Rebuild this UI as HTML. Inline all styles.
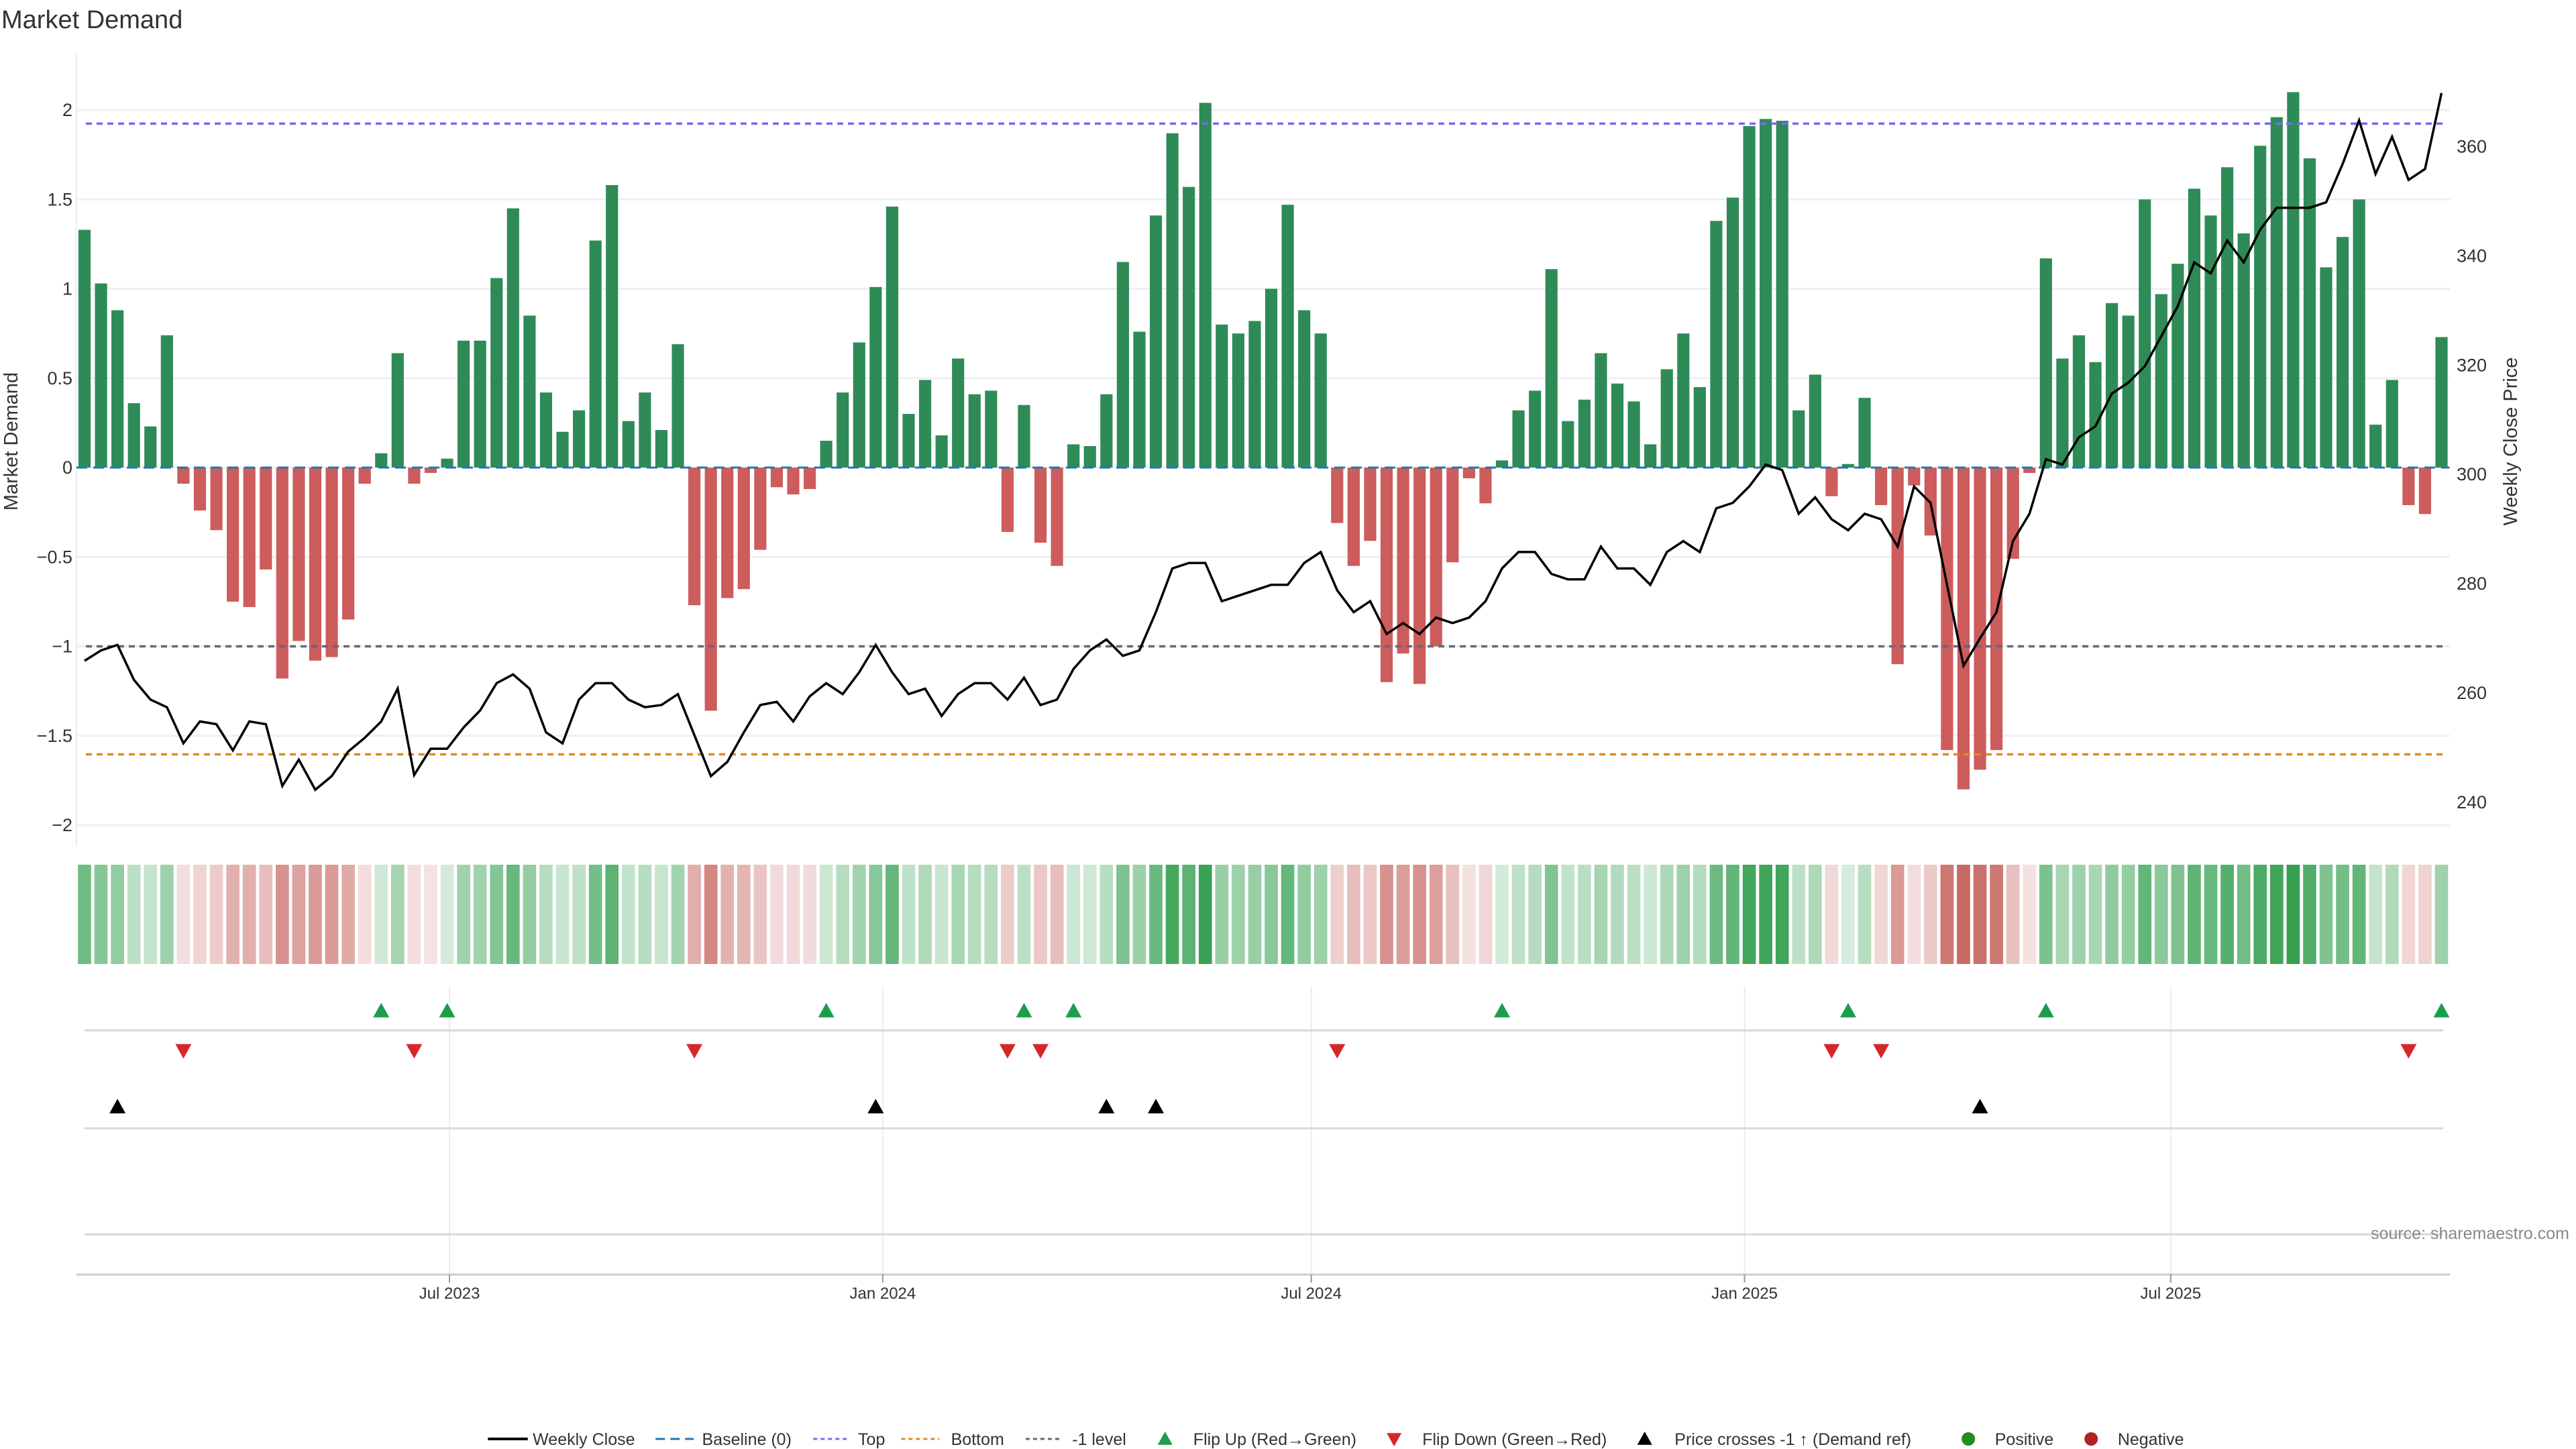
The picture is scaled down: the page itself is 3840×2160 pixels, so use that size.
<!DOCTYPE html>
<html><head><meta charset="utf-8"><style>
html,body{margin:0;padding:0;background:#fff;}
svg{display:block;font-family:"Liberation Sans","DejaVu Sans",sans-serif;}
</style></head><body>
<svg id="chart" width="3840" height="2160" viewBox="0 0 3840 2160" xmlns="http://www.w3.org/2000/svg">
<text x="2" y="42" font-size="38" fill="#333">Market Demand</text>
<g id="grid"></g>
<g id="bars"></g>
<g id="refs"></g>
<g id="price"></g>
<g id="heat"></g>
<g id="events"></g>
<g id="axes"></g>
<text transform="translate(26,658) rotate(-90)" text-anchor="middle" font-size="29" fill="#333">Market Demand</text>
<text transform="translate(3752,658) rotate(-90)" text-anchor="middle" font-size="29" fill="#333">Weekly Close Price</text>
<text x="3830" y="1847" text-anchor="end" font-size="25" fill="#888">source: sharemaestro.com</text>
<g id="legend"></g>
</svg>
<script>
const demand = [1.33,1.03,0.88,0.36,0.23,0.74,-0.09,-0.24,-0.35,-0.75,-0.78,-0.57,-1.18,-0.97,-1.08,-1.06,-0.85,-0.09,0.08,0.64,-0.09,-0.03,0.05,0.71,0.71,1.06,1.45,0.85,0.42,0.20,0.32,1.27,1.58,0.26,0.42,0.21,0.69,-0.77,-1.36,-0.73,-0.68,-0.46,-0.11,-0.15,-0.12,0.15,0.42,0.70,1.01,1.46,0.30,0.49,0.18,0.61,0.41,0.43,-0.36,0.35,-0.42,-0.55,0.13,0.12,0.41,1.15,0.76,1.41,1.87,1.57,2.04,0.80,0.75,0.82,1.00,1.47,0.88,0.75,-0.31,-0.55,-0.41,-1.20,-1.04,-1.21,-1.00,-0.53,-0.06,-0.20,0.04,0.32,0.43,1.11,0.26,0.38,0.64,0.47,0.37,0.13,0.55,0.75,0.45,1.38,1.51,1.91,1.95,1.94,0.32,0.52,-0.16,0.02,0.39,-0.21,-1.10,-0.10,-0.38,-1.58,-1.80,-1.69,-1.58,-0.51,-0.03,1.17,0.61,0.74,0.59,0.92,0.85,1.50,0.97,1.14,1.56,1.41,1.68,1.31,1.80,1.96,2.10,1.73,1.12,1.29,1.50,0.24,0.49,-0.21,-0.26,0.73];
const closePrice = [265.9,267.8,268.8,262.4,258.8,257.4,250.8,254.8,254.3,249.5,254.8,254.3,243.0,247.8,242.3,244.8,249.3,251.8,254.8,260.8,245.0,249.8,249.8,253.7,256.8,261.8,263.4,260.8,252.8,250.8,258.8,261.8,261.8,258.8,257.4,257.8,259.8,252.3,244.8,247.4,252.8,257.8,258.4,254.8,259.4,261.8,259.8,263.8,268.8,263.8,259.8,260.8,255.8,259.8,261.8,261.8,258.8,262.8,257.8,258.8,264.4,267.8,269.8,266.8,267.8,274.8,282.8,283.8,283.8,276.8,277.8,278.8,279.8,279.8,283.8,285.8,278.8,274.8,276.8,270.8,272.8,270.8,273.8,272.8,273.8,276.8,282.8,285.8,285.8,281.8,280.8,280.8,286.8,282.8,282.8,279.8,285.8,287.8,285.8,293.8,294.8,297.8,301.8,300.8,292.8,295.8,291.8,289.8,292.8,291.8,286.8,297.8,294.8,279.8,265.0,270.0,274.8,287.8,292.8,302.8,301.8,306.8,308.8,314.8,316.8,319.8,325.3,330.8,338.8,336.8,342.8,338.8,344.8,348.8,348.8,348.8,349.8,356.8,364.8,355.0,361.8,353.9,355.9,369.8];
const leftTicks = [-2,-1.5,-1,-0.5,0,0.5,1,1.5,2];
const leftTickLabels = ["−2","−1.5","−1","−0.5","0","0.5","1","1.5","2"];
const rightTicks = [240,260,280,300,320,340,360];
const dateTicks = ["2023-07-01","2024-01-01","2024-07-01","2025-01-01","2025-07-01"];
const dateTickLabels = ["Jul 2023","Jan 2024","Jul 2024","Jan 2025","Jul 2025"];
const refLevels = [1.924,-1.604,-1.0];
const startDate = "2023-01-27";

const NS="http://www.w3.org/2000/svg";
function mk(parent,tag,attrs){const e=document.createElementNS(NS,tag);for(const k in attrs)e.setAttribute(k,attrs[k]);parent.appendChild(e);return e;}
const X0=126, PITCH=24.57, XL=114, XR=3652;
const xi=i=>X0+i*PITCH;
const xd=s=>X0+(new Date(s)-new Date(startDate))/86400000/7*PITCH;
const yL=v=>697-v*266.5;
const yR=p=>1196-(p-240)*8.146;
const G=id=>document.getElementById(id);

// grid
const grid=G('grid');
leftTicks.forEach(t=>{const l=mk(grid,'line',{x1:XL,x2:XR,y1:yL(t),y2:yL(t),stroke:'#eef0f3','stroke-width':3});

});
mk(grid,'line',{x1:XL,x2:XL,y1:79,y2:1262,stroke:'#eef0f3','stroke-width':3});

// bars
const bars=G('bars');const bw=PITCH*0.74;
demand.forEach((v,i)=>{const r=mk(bars,'rect',{x:xi(i)-bw/2,y:Math.min(yL(v),yL(0)),width:bw,height:Math.abs(yL(v)-yL(0)),fill:v>=0?'#2e8b57':'#cd5c5c'});

});

// reference lines
const refs=G('refs');
const refColors=['#7b68ee','#e08a1e','#666677'];
refLevels.forEach((lv,k)=>{const l=mk(refs,'line',{x1:XL+14,x2:XR-10,y1:yL(lv),y2:yL(lv),stroke:refColors[k],'stroke-width':3.5,'stroke-dasharray':'9 7'});

});
const bl=mk(refs,'line',{x1:X0-12,x2:xi(demand.length-1)+12,y1:yL(0),y2:yL(0),stroke:'#1f77b4','stroke-width':3,'stroke-dasharray':'16 9'});



// price line
const pl=mk(G('price'),'polyline',{points:closePrice.map((p,i)=>xi(i)+','+yR(p)).join(' '),fill:'none',stroke:'#000','stroke-width':3.5,'stroke-linejoin':'miter'});



// heatmap
const heat=G('heat');const hw=PITCH*0.8;
function mix(c,t){return 'rgb('+c.map(x=>Math.round(255+(x-255)*t)).join(',')+')';}
demand.forEach((v,i)=>{let col;
 if(v>=0){col=mix([52,160,80],0.2+0.8*Math.min(v/2.1,1));}
 else{col=mix([200,105,100],0.18+0.82*Math.min(-v/1.8,1));}
 const r=mk(heat,'rect',{x:xi(i)-hw/2,y:1289,width:hw,height:148,fill:col});
 
 });

// event panels
const ev=G('events');
dateTicks.forEach(d=>{const l=mk(ev,'line',{x1:xd(d),x2:xd(d),y1:1470,y2:1900,stroke:'#ececf0','stroke-width':2});

});
[1536,1682,1840].forEach(y=>{const l=mk(ev,'line',{x1:X0,x2:3642,y1:y,y2:y,stroke:'#d8d8d8','stroke-width':3});

});
function tri(x,y,up,col,name){const s=12;const pts=up?[[x,y-s],[x-s,y+s*0.8],[x+s,y+s*0.8]]:[[x,y+s],[x-s,y-s*0.8],[x+s,y-s*0.8]];
 const t=mk(ev,'polygon',{points:pts.map(p=>p.join(',')).join(' '),fill:col});
 
 }
const crossLevel=268.6;
for(let i=1;i<demand.length;i++){
 if(demand[i-1]<0&&demand[i]>=0)tri(xi(i),1507,true,'#1a9e4a','flip-up-marker');
 if(demand[i-1]>=0&&demand[i]<0)tri(xi(i),1566,false,'#d62728','flip-down-marker');
 if(closePrice[i-1]<crossLevel&&closePrice[i]>=crossLevel)tri(xi(i),1650,true,'#000','price-cross-marker');
}

// axes
const ax=G('axes');
mk(ax,'line',{x1:XL,x2:XR,y1:1900,y2:1900,stroke:'#ccc','stroke-width':3});
dateTicks.forEach((d,k)=>{mk(ax,'line',{x1:xd(d),x2:xd(d),y1:1900,y2:1912,stroke:'#999','stroke-width':2});
 const t=mk(ax,'text',{x:xd(d),y:1936,'text-anchor':'middle','font-size':24,fill:'#333'});t.textContent=dateTickLabels[k];
 
 });
leftTicks.forEach((v,k)=>{const t=mk(ax,'text',{x:108,y:yL(v)+9,'text-anchor':'end','font-size':27,fill:'#333'});t.textContent=leftTickLabels[k];
 
 });
rightTicks.forEach(v=>{const t=mk(ax,'text',{x:3662,y:yR(v)+9,'font-size':27,fill:'#333'});t.textContent=String(v);
 
 });

// legend
const lg=G('legend');const LY=2145;const S=2.474;
function ltext(x,s){const t=mk(lg,'text',{x:x*S,y:LY+9,'font-size':25,fill:'#333'});t.textContent=s;
 
 }
function lline(x1,x2,col,dash,w){const l=mk(lg,'line',{x1:x1*S,x2:x2*S,y1:LY,y2:LY,stroke:col,'stroke-width':w});if(dash)l.setAttribute('stroke-dasharray',dash);
 
 }
lline(294,318,'#000',null,4);ltext(321,'Weekly Close');
lline(395,418,'#1f77b4','14 8',3);ltext(423,'Baseline (0)');
lline(490,512,'#7b68ee','6 5',3);ltext(517,'Top');
lline(543,566,'#e08a1e','6 5',3);ltext(573,'Bottom');
lline(618,640,'#666677','6 5',3);ltext(646,'-1 level');
function ltri(x,up,col){const cx=x*S,s=11;const pts=up?[[cx,LY-s],[cx-s,LY+s*0.8],[cx+s,LY+s*0.8]]:[[cx,LY+s],[cx-s,LY-s*0.8],[cx+s,LY-s*0.8]];
 const t=mk(lg,'polygon',{points:pts.map(p=>p.join(',')).join(' '),fill:col});
 
 }
ltri(702,true,'#1a9e4a');ltext(719,'Flip Up (Red→Green)');
ltri(840,false,'#d62728');ltext(857,'Flip Down (Green→Red)');
ltri(991,true,'#000');ltext(1009,'Price crosses -1 ↑ (Demand ref)');
function lcirc(x,col){const c=mk(lg,'circle',{cx:x*S,cy:LY,r:10,fill:col});
 
 }
lcirc(1186,'#228b22');ltext(1202,'Positive');
lcirc(1260,'#b22222');ltext(1276,'Negative');
</script>
</body></html>
